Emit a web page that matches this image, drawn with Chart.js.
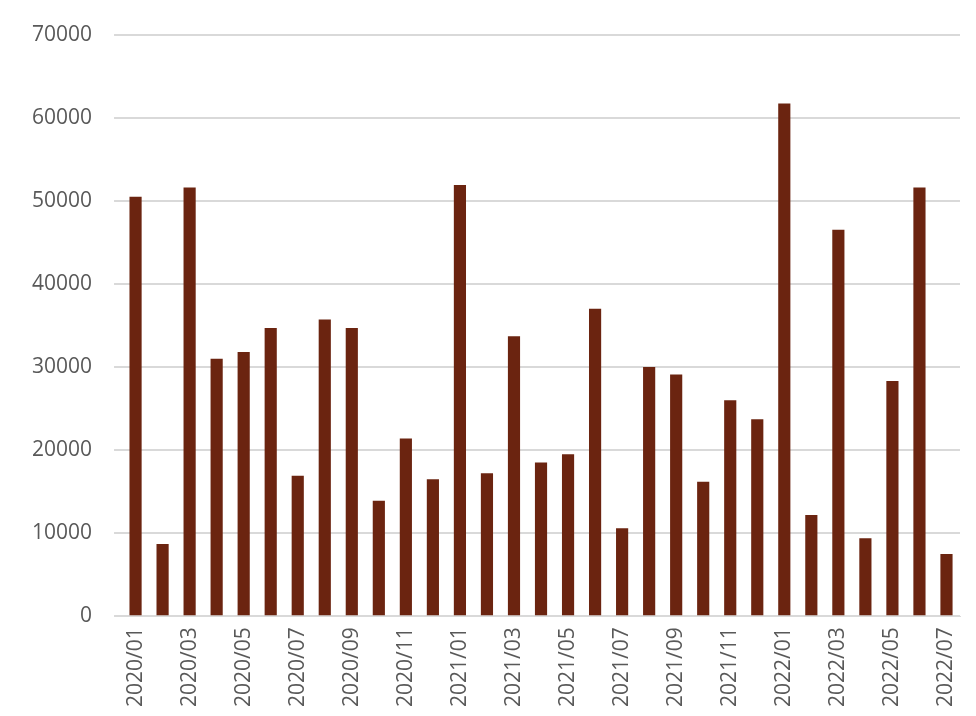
<!DOCTYPE html>
<html>
<head>
<meta charset="utf-8">
<script src="https://cdn.jsdelivr.net/npm/chart.js@4/dist/chart.umd.min.js"></script>
<style>
html, body { margin: 0; padding: 0; background: #fff; }
#wrap { width: 976px; height: 716px; }
</style>
</head>
<body>
<div id="wrap"><canvas id="chart"></canvas></div>
<script>
// Months 2020/01 .. 2022/07
const months = [
    '2020/01', '2020/02', '2020/03', '2020/04', '2020/05', '2020/06', '2020/07', '2020/08',
    '2020/09', '2020/10', '2020/11', '2020/12', '2021/01', '2021/02', '2021/03', '2021/04',
    '2021/05', '2021/06', '2021/07', '2021/08', '2021/09', '2021/10', '2021/11', '2021/12',
    '2022/01', '2022/02', '2022/03', '2022/04', '2022/05', '2022/06', '2022/07'
];
const values = [
    50500, 8700, 51600, 31000, 31800, 34700, 16900, 35700,
    34700, 13900, 21400, 16500, 51900, 17200, 33700, 18500,
    19500, 37000, 10600, 30000, 29100, 16200, 26000, 23700,
    61700, 12200, 46500, 9400, 28300, 51600, 7500
];
const yTicks = [0, 10000, 20000, 30000, 40000, 50000, 60000, 70000];

new Chart(document.getElementById('chart'), {
    type: 'bar',
    data: {
        labels: months,
        datasets: [{
            data: values,
            backgroundColor: '#6B2410',
            barPercentage: 0.45,
            categoryPercentage: 1
        }]
    },
    options: {
        responsive: true,
        maintainAspectRatio: false,
        animation: false,
        layout: { padding: { left: 10, right: 16, top: 20, bottom: 6 } },
        plugins: { legend: { display: false }, tooltip: { enabled: false } },
        scales: {
            x: {
                grid: { display: false },
                border: { color: '#d9d9d9' },
                ticks: {
                    autoSkip: false,
                    maxRotation: 90,
                    minRotation: 90,
                    color: '#595959',
                    font: { family: 'Open Sans', size: 21 },
                    callback: (v, i) => i % 2 === 0 ? months[i] : ''
                }
            },
            y: {
                min: 0,
                max: 70000,
                afterBuildTicks: axis => { axis.ticks = yTicks.map(v => ({ value: v })); },
                grid: { color: '#d9d9d9', lineWidth: 2 },
                border: { display: false },
                ticks: {
                    color: '#595959',
                    padding: 22,
                    font: { family: 'Open Sans', size: 21 },
                    callback: v => String(v)
                }
            }
        }
    }
});
</script>
</body>
</html>
